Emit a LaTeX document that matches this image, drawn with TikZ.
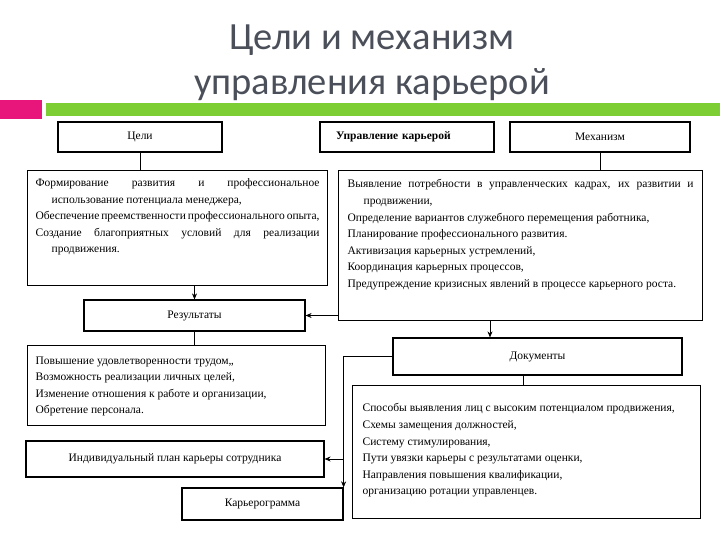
\documentclass[tikz,border=0pt]{standalone}
\usepackage{fontspec}
\setmainfont{Liberation Serif}
\newfontfamily\titlefont{Carlito}
\usetikzlibrary{arrows.meta}

\definecolor{slidegreen}{HTML}{7DCE35}
\definecolor{slidepink}{HTML}{E8157A}
\definecolor{titlegray}{HTML}{4A4F59}

% item of a list with a hanging second line
\newcommand{\punkt}{\par\hangindent=16pt\hangafter=1\noindent}
% fixed size text block for the list boxes
\newcommand{\spisok}[3]{\parbox[c][#1][t]{#2}{\fontsize{11.5}{16.6}\selectfont #3}}

\begin{document}
\begin{tikzpicture}[x=1pt,y=-1pt,
    hdr/.style={draw,line width=1.2pt,inner sep=0pt,font=\fontsize{11.5}{14}\selectfont},
    listbox/.style={draw,line width=1.2pt,anchor=north west,inner xsep=8pt,inner ysep=6pt},
    conn/.style={line width=0.6pt},
    >={Stealth[length=6pt,width=5pt]}]
\useasboundingbox (0,0) rectangle (720,540);

% title and the slide bars
\node[font=\titlefont\fontsize{38.5}{45}\selectfont,text=titlegray,align=center] (title) at (372,63)
    {Цели и механизм\\управления карьерой};
\fill[slidepink] (0,100) rectangle (42,119);
\fill[slidegreen] (46,103) rectangle (720,116);

% top row
\node[hdr,minimum width=164pt,minimum height=30pt] (goals) at (140,137) {Цели};
\node[hdr,inner xsep=16pt,text width=142pt,minimum height=30pt,align=left,font=\fontsize{11.5}{14}\selectfont\bfseries] (mgmt) at (407,137) {Управление карьерой};
\node[hdr,minimum width=180pt,minimum height=30pt] (mech) at (600,137) {Механизм};

% goals and mechanism lists
\node[listbox] (goaltxt) at (27,170) {\spisok{103pt}{284pt}{%
    \vspace*{2pt}
    \punkt Формирование развития и профессиональное использование потенциала менеджера,
    \punkt Обеспечение преемственности профессионального опыта,
    \punkt Создание благоприятных условий для реализации продвижения.}};
\node[listbox,inner xsep=9pt] (mechtxt) at (338,170) {\spisok{138pt}{346pt}{%
    \vspace*{3pt}
    \punkt Выявление потребности в управленческих кадрах, их развитии и продвижении,
    \punkt Определение вариантов служебного перемещения работника,
    \punkt Планирование профессионального развития.
    \punkt Активизация карьерных устремлений,
    \punkt Координация карьерных процессов,
    \punkt Предупреждение кризисных явлений в процессе карьерного роста.}};

% results
\node[hdr,minimum width=221pt,minimum height=31pt] (res) at (194.5,315.5) {Результаты};
\node[listbox] (restxt) at (27,345) {\spisok{68pt}{282pt}{%
    \vspace*{5pt}
    \punkt Повышение удовлетворенности трудом,,
    \punkt Возможность реализации личных целей,
    \punkt Изменение отношения к работе и организации,
    \punkt Обретение персонала.}};

% documents
\node[hdr,minimum width=289pt,minimum height=37pt] (docs) at (537.5,356.5) {Документы};
\node[listbox,inner xsep=10pt] (docstxt) at (352,385) {\spisok{121pt}{328pt}{%
    \vspace*{12pt}
    \punkt Способы выявления лиц с высоким потенциалом продвижения,
    \punkt Схемы замещения должностей,
    \punkt Систему стимулирования,
    \punkt Пути увязки карьеры с результатами оценки,
    \punkt Направления повышения квалификации,
    \punkt организацию ротации управленцев.}};

% plan and career chart
\node[hdr,minimum width=298pt,minimum height=36pt] (plan) at (175,459) {Индивидуальный план карьеры сотрудника};
\node[hdr,minimum width=161pt,minimum height=32pt] (career) at (262.5,504) {Карьерограмма};

% connectors
\coordinate (dtop) at (490,320);
\coordinate (dbot) at (523,375);
\draw[conn] (goals.south) -- (goals.south |- goaltxt.north);
\draw[conn] (mech.south) -- (mech.south |- mechtxt.north);
\draw[conn,->] (res.north |- goaltxt.south) -- (res.north);
\draw[conn,->] (mechtxt.west |- res.east) -- (res.east);
\draw[conn] (res.south) -- (res.south |- restxt.north);
\draw[conn,->] (dtop) -- (dtop |- docs.north);
\draw[conn] (dbot) -- (dbot |- docstxt.north);
\draw[conn,->] (docs.west) -| (career.north east);
\draw[conn,->] (plan.east -| career.north east) -- (plan.east);
\end{tikzpicture}
\end{document}
